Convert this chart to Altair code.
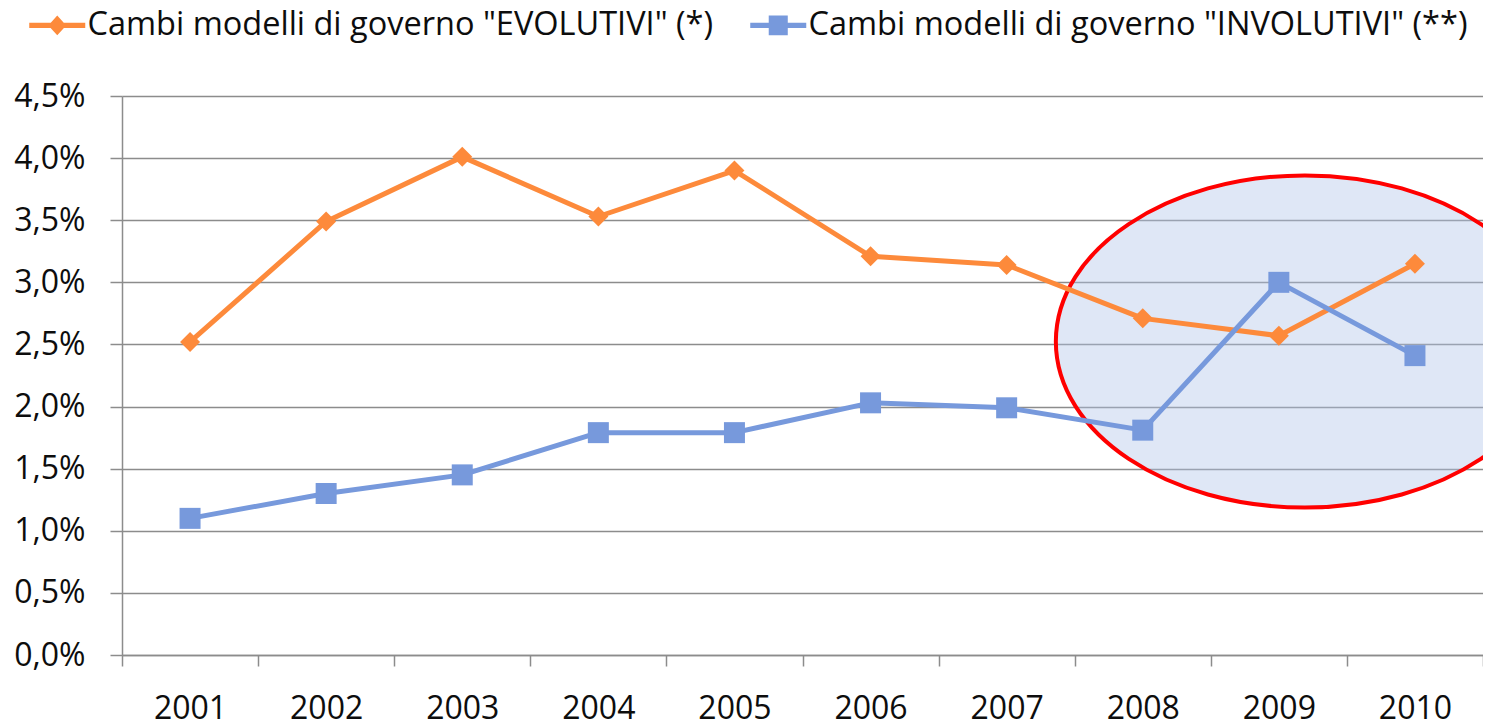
import altair as alt
import pandas as pd

# ---------------- data ----------------
years = ["2001", "2002", "2003", "2004", "2005", "2006", "2007", "2008", "2009", "2010"]
evolutivi = [2.52, 3.49, 4.01, 3.53, 3.90, 3.21, 3.14, 2.71, 2.57, 3.15]
involutivi = [1.10, 1.30, 1.45, 1.79, 1.79, 2.03, 1.99, 1.81, 3.00, 2.41]
series_names = [
    'Cambi modelli di governo "EVOLUTIVI" (*)',
    'Cambi modelli di governo "INVOLUTIVI" (**)',
]
y_ticks = [0.0, 0.5, 1.0, 1.5, 2.0, 2.5, 3.0, 3.5, 4.0, 4.5]
highlight_year = ["2009"]
highlight_center = [2.524]

# ---------------- styling ----------------
ORANGE = "#fd8a3b"
BLUE = "#7799dc"
GRID = "#8c8c8c"
FONT = "Open Sans"
TXT = "#0d0d0d"

rows = []
for name, vals in zip(series_names, [evolutivi, involutivi]):
    for yr, v in zip(years, vals):
        rows.append({"year": yr, "value": v, "series": name})
df = pd.DataFrame(rows)
hl = pd.DataFrame({"year": highlight_year, "value": highlight_center})

x_enc = alt.X(
    "year:O",
    scale=alt.Scale(type="band", domain=years, paddingInner=0, paddingOuter=0),
    axis=alt.Axis(
        title=None, labelAngle=0, tickBand="extent", grid=False,
        domainColor=GRID, domainWidth=1.5, tickColor=GRID, tickWidth=1.5,
        tickSize=11, labelFont=FONT, labelFontSize=32, labelColor=TXT,
        labelPadding=27,
    ),
)
y_enc = alt.Y(
    "value:Q",
    scale=alt.Scale(domain=[0, 4.5], nice=False, zero=True),
    axis=alt.Axis(
        title=None, values=y_ticks,
        labelExpr="replace(format(datum.value, '.1f'), '.', ',') + '%'",
        grid=True, gridColor=GRID, gridWidth=1.5,
        domainColor=GRID, domainWidth=1.5, tickColor=GRID, tickWidth=1.5,
        tickSize=12, labelFont=FONT, labelFontSize=32, labelColor=TXT,
        labelPadding=25,
    ),
)
color_scale = alt.Scale(domain=series_names, range=[ORANGE, BLUE])

# legend symbols: a line with the marker in the middle (symbol box is 28px,
# the drawn path reaches twice as wide)
LEG_ORANGE = ("M -2 -0.18 L 2 -0.18 L 2 0.18 L -2 0.18 Z "
              "M 0 -0.71 L 0.64 0 L 0 0.71 L -0.64 0 Z")
LEG_BLUE = ("M -2 -0.18 L 2 -0.18 L 2 0.18 L -2 0.18 Z "
            "M -0.68 -0.7 L 0.68 -0.7 L 0.68 0.7 L -0.68 0.7 Z")
ELLIPSE = ("M 1 0 C 1 0.368 0.5523 0.667 0 0.667 "
           "C -0.5523 0.667 -1 0.368 -1 0 "
           "C -1 -0.368 -0.5523 -0.667 0 -0.667 "
           "C 0.5523 -0.667 1 -0.368 1 0 Z")

legend_def = dict(
    title=None, orient="none", legendX=-81, legendY=-87, direction="horizontal",
    labelFont=FONT, labelFontSize=32.5, labelColor=TXT, symbolSize=784,
    labelOffset=14, columnPadding=36, symbolStrokeWidth=0, symbolOpacity=1,
    labelLimit=0,
)

# layer that only carries the legend (no rows drawn)
legend_layer = alt.Chart(df).transform_filter("false").mark_point(
    filled=True, opacity=1, size=784
).encode(
    x=x_enc, y=y_enc,
    color=alt.Color("series:N", scale=color_scale, legend=alt.Legend(**legend_def)),
    shape=alt.Shape(
        "series:N",
        scale=alt.Scale(domain=series_names, range=[LEG_ORANGE, LEG_BLUE]),
        legend=alt.Legend(**legend_def),
    ),
)

ellipse = alt.Chart(hl).mark_point(
    shape=ELLIPSE, size=498 * 498, filled=True, fill="#b0c4e8", fillOpacity=0.4,
    stroke="#ff0000", strokeWidth=4, strokeOpacity=1, opacity=1, xOffset=26,
).encode(x=x_enc, y=y_enc)

lines = alt.Chart(df).mark_line(strokeWidth=5, strokeJoin="round").encode(
    x=x_enc, y=y_enc,
    color=alt.Color("series:N", scale=color_scale, legend=None),
)

pts_evo = alt.Chart(df).transform_filter(
    alt.datum.series == series_names[0]
).mark_point(shape="diamond", filled=True, size=400, opacity=1).encode(
    x=x_enc, y=y_enc,
    color=alt.Color("series:N", scale=color_scale, legend=None),
)

pts_inv = alt.Chart(df).transform_filter(
    alt.datum.series == series_names[1]
).mark_point(shape="square", filled=True, size=441, opacity=1).encode(
    x=x_enc, y=y_enc,
    color=alt.Color("series:N", scale=color_scale, legend=None),
)

chart = alt.layer(legend_layer, ellipse, lines, pts_evo, pts_inv).properties(
    width=1361, height=559,
    padding={"left": 114, "top": 88, "right": 0, "bottom": 71},
    autosize=alt.AutoSizeParams(type="none"),
).configure_view(stroke=None)

chart.save("out.html", embed_options={"renderer": "svg", "actions": False})
